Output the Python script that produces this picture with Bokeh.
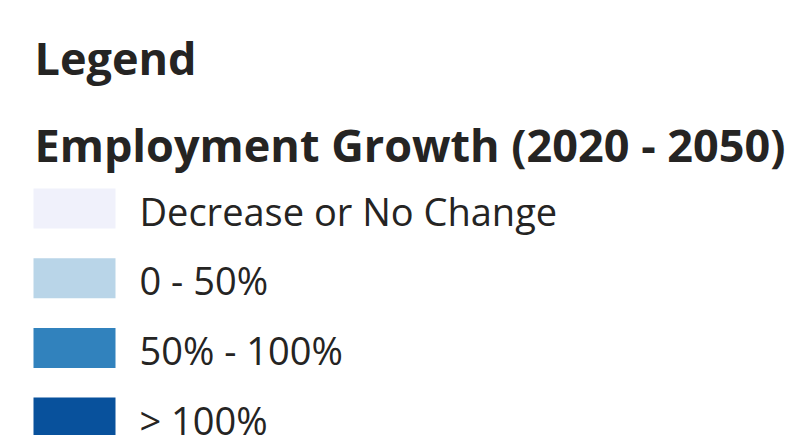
from bokeh.plotting import figure
from bokeh.models import Range1d, ColumnDataSource
from bokeh.core.properties import value
from bokeh.embed import file_html
from bokeh.resources import INLINE

# ---- data ----
legend_title = "Legend"
legend_subtitle = "Employment Growth (2020 - 2050)"
categories = ["Decrease or No Change", "0 - 50%", "50% - 100%", "> 100%"]
colors = ["#f0f1fb", "#b9d5e8", "#3182bd", "#08519c"]

W, H = 803, 435
p = figure(width=W, height=H, output_backend="svg", toolbar_location=None,
           x_range=Range1d(0, W), y_range=Range1d(H, 0), min_border=0)
p.axis.visible = False
p.grid.visible = False
p.outline_line_color = None
p.background_fill_color = "white"
p.border_fill_color = "white"

txt_color = "#252423"
H_SIZE, I_SIZE = 45, 38
# renderer places the alphabetic baseline ~0.39em below the anchor
h_shift = 0.39 * H_SIZE
i_shift = 0.39 * I_SIZE

# headings
p.text(x=[34], y=[75 - h_shift], text=[legend_title], text_font=value("Open Sans"),
       text_font_style="bold", text_font_size=f"{H_SIZE}px", text_color=txt_color,
       text_baseline="alphabetic", text_align="left")
p.text(x=[34], y=[162 - h_shift], text=[legend_subtitle], text_font=value("Open Sans"),
       text_font_style="bold", text_font_size=f"{H_SIZE}px", text_color=txt_color,
       text_baseline="alphabetic", text_align="left")

# legend items
step = 69.7
idx = list(range(len(categories)))
tops = [188 + i * step for i in idx]
src = ColumnDataSource(dict(
    left=[33] * len(idx), right=[115] * len(idx),
    top=tops, bottom=[t + 40 for t in tops],
    color=colors,
    tx=[139] * len(idx), ty=[225 - i_shift + i * step for i in idx],
    label=categories,
))
p.quad(left="left", right="right", top="top", bottom="bottom",
       fill_color="color", line_color=None, source=src)
p.text(x="tx", y="ty", text="label", source=src, text_font=value("Open Sans"),
       text_font_size=f"{I_SIZE}px", text_color=txt_color,
       text_baseline="alphabetic", text_align="left")

open("out.html", "w").write(file_html(p, INLINE))
